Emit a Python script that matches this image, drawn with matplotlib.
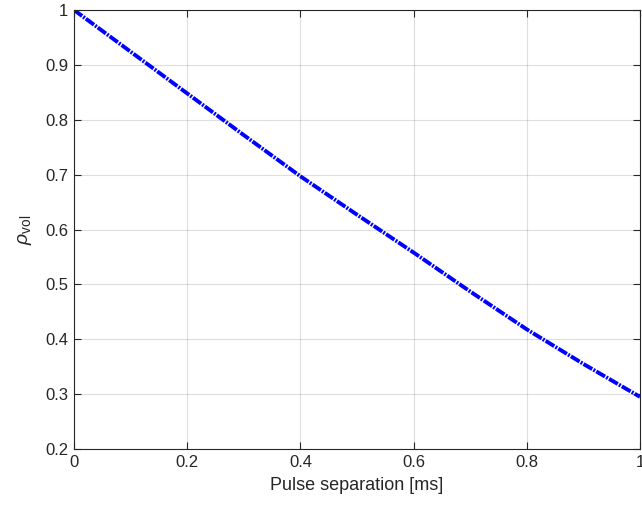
import matplotlib
matplotlib.use('Agg')
import matplotlib.pyplot as plt

# pulse separation [ms] and volume correlation
pulse_sep = [0.0, 0.1, 0.2, 0.3, 0.4, 0.5, 0.6, 0.7, 0.8, 0.9, 1.0]
rho_vol = [1.0, 0.924, 0.848, 0.772, 0.697, 0.627, 0.558, 0.487, 0.418, 0.355, 0.295]

x_ticks = [0, 0.2, 0.4, 0.6, 0.8, 1]
x_tick_labels = ['0', '0.2', '0.4', '0.6', '0.8', '1']
y_ticks = [0.2, 0.3, 0.4, 0.5, 0.6, 0.7, 0.8, 0.9, 1.0]
y_tick_labels = ['0.2', '0.3', '0.4', '0.5', '0.6', '0.7', '0.8', '0.9', '1']

plt.rcParams['font.family'] = ['Liberation Sans', 'DejaVu Sans']
plt.rcParams['mathtext.fontset'] = 'custom'
plt.rcParams['mathtext.rm'] = 'Liberation Sans'
plt.rcParams['mathtext.it'] = 'Liberation Sans:italic'

dark = '#262626'

fig = plt.figure(figsize=(6.42, 5.2), dpi=100)
ax = fig.add_axes([74 / 642, 71 / 520, 566 / 642, 439 / 520])

ax.plot(pulse_sep, rho_vol, color='#0000ff', linewidth=2.8,
        linestyle=(0, (2.6, 0.35, 0.5, 0.35)))

ax.set_xlim(0, 1)
ax.set_ylim(0.2, 1)
ax.set_xticks(x_ticks)
ax.set_xticklabels(x_tick_labels)
ax.set_yticks(y_ticks)
ax.set_yticklabels(y_tick_labels)

ax.grid(True, color='#000000', alpha=0.13, linewidth=0.8)
ax.set_axisbelow(True)
ax.tick_params(direction='in', length=5, width=0.8, colors=dark,
               labelsize=12, top=True, right=True, pad=4)
for sp in ax.spines.values():
    sp.set_color(dark)
    sp.set_linewidth(0.8)

ax.set_xlabel('Pulse separation [ms]', fontsize=13, color=dark, labelpad=5)
ax.set_ylabel(r'$\rho_{\rm vol}$', fontsize=14, color=dark, labelpad=8)

plt.savefig('out.png', dpi=100)
plt.close()
